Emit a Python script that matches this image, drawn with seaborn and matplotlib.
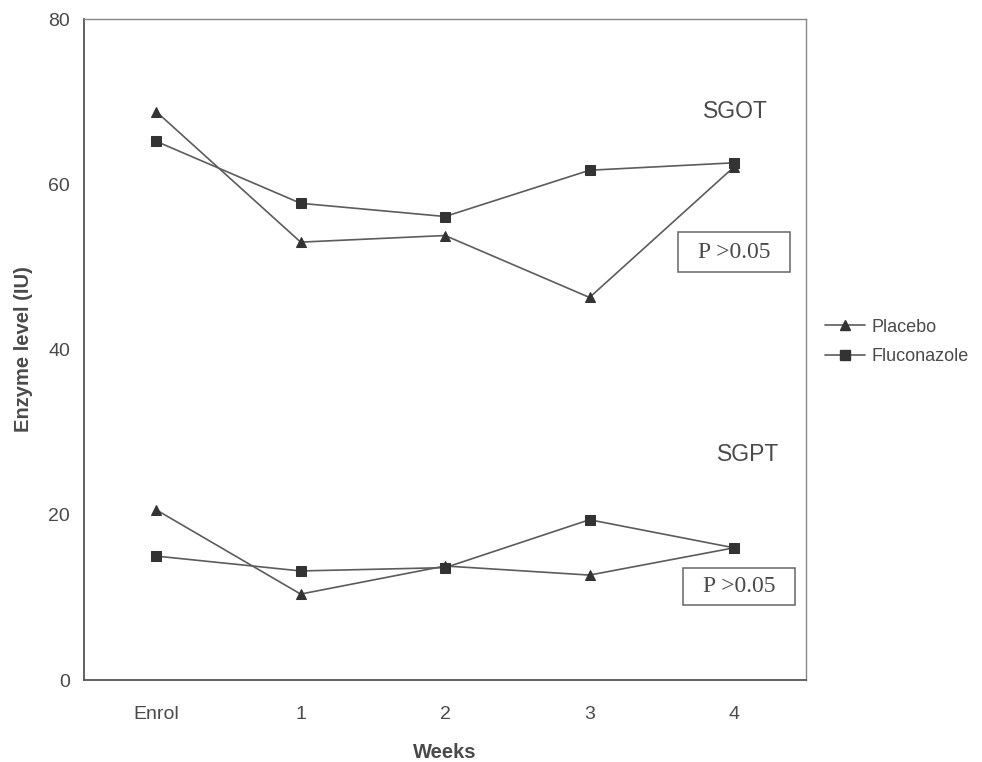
import matplotlib
matplotlib.use("Agg")
import matplotlib.pyplot as plt
import seaborn as sns
import pandas as pd
from matplotlib.lines import Line2D
from matplotlib.patches import Rectangle

weeks = ["Enrol", "1", "2", "3", "4"]
sgot_placebo = [68.8, 53.0, 53.8, 46.3, 62.1]
sgot_fluconazole = [65.2, 57.7, 56.1, 61.7, 62.6]
sgpt_placebo = [20.6, 10.4, 13.8, 12.7, 16.0]
sgpt_fluconazole = [15.0, 13.2, 13.6, 19.4, 16.0]
groups = ["Placebo", "Fluconazole"]
y_ticks = [0, 20, 40, 60, 80]

rows = []
for enz, p, f in [("SGOT", sgot_placebo, sgot_fluconazole), ("SGPT", sgpt_placebo, sgpt_fluconazole)]:
    for w, v in zip(weeks, p):
        rows.append({"Weeks": w, "value": v, "group": "Placebo", "enzyme": enz})
    for w, v in zip(weeks, f):
        rows.append({"Weeks": w, "value": v, "group": "Fluconazole", "enzyme": enz})
df = pd.DataFrame(rows)

sns.set_style("white")
plt.rcParams["font.family"] = ["Liberation Sans", "DejaVu Sans"]

fig = plt.figure(figsize=(9.82, 7.62), dpi=100)
ax = fig.add_axes([0.0855, 0.1076, 0.7355, 0.8674])

line_col = "#5c5c5c"
mark_col = "#333333"
txt_col = "#4a4a4a"
markers = {"Placebo": "^", "Fluconazole": "s"}
for enz in ["SGOT", "SGPT"]:
    sub = df[df["enzyme"] == enz]
    for g in groups:
        sg = sub[sub["group"] == g]
        sns.lineplot(data=sg, x="Weeks", y="value", ax=ax, color=line_col,
                     marker=markers[g], markersize=7, markerfacecolor=mark_col,
                     markeredgecolor=mark_col, linewidth=1.2, sort=False,
                     legend=False)

ax.set_xlim(-0.5, 4.5)
ax.set_ylim(0, 80)
ax.set_yticks(y_ticks)
ax.set_yticklabels([str(t) for t in y_ticks], fontsize=14, color=txt_col)
ax.set_xticks(range(len(weeks)))
ax.set_xticklabels(weeks, fontsize=14, color=txt_col)
ax.tick_params(axis="x", length=0, pad=19)
ax.set_xticks([i - 0.5 for i in range(len(weeks) + 1)], minor=True)
ax.tick_params(axis="x", which="minor", length=4, color="#cccccc")
ax.tick_params(axis="y", length=3, color="#bbbbbb", pad=7)

for s in ax.spines.values():
    s.set_color("#555555")
    s.set_linewidth(1.3)
for s in ["top", "right"]:
    ax.spines[s].set_color("#888888")
    ax.spines[s].set_linewidth(1.0)

ax.set_xlabel("Weeks", fontsize=14.5, fontweight="bold", color=txt_col, labelpad=14)
ax.set_ylabel("Enzyme level (IU)", fontsize=14.5, fontweight="bold", color=txt_col, labelpad=11)

ax.text(4.008, 68.8, "SGOT", fontsize=16.5, color=txt_col, ha="center", va="center")
ax.text(4.10, 27.3, "SGPT", fontsize=16.5, color=txt_col, ha="center", va="center")

serif = ["Liberation Serif", "DejaVu Serif"]
ax.add_patch(Rectangle((3.61, 49.4), 0.78, 4.8, facecolor="white",
                       edgecolor="#666666", linewidth=1.1, zorder=3))
ax.text(4.0, 51.8, "P >0.05", fontsize=17, family=serif, color=txt_col,
        ha="center", va="center", zorder=4)
ax.add_patch(Rectangle((3.65, 9.1), 0.77, 4.5, facecolor="white",
                       edgecolor="#666666", linewidth=1.1, zorder=3))
ax.text(4.035, 11.35, "P >0.05", fontsize=17, family=serif, color=txt_col,
        ha="center", va="center", zorder=4)

handles = [Line2D([], [], color=line_col, marker=markers[g], markersize=7,
                  markerfacecolor=mark_col, markeredgecolor=mark_col, linewidth=1.2)
           for g in groups]
leg = fig.legend(handles, groups, loc="center left", bbox_to_anchor=(0.824, 0.551),
                 frameon=False, fontsize=13, handlelength=2.2, handletextpad=0.33,
                 labelspacing=0.7)
for t in leg.get_texts():
    t.set_color(txt_col)

fig.savefig("out.png", dpi=100)
